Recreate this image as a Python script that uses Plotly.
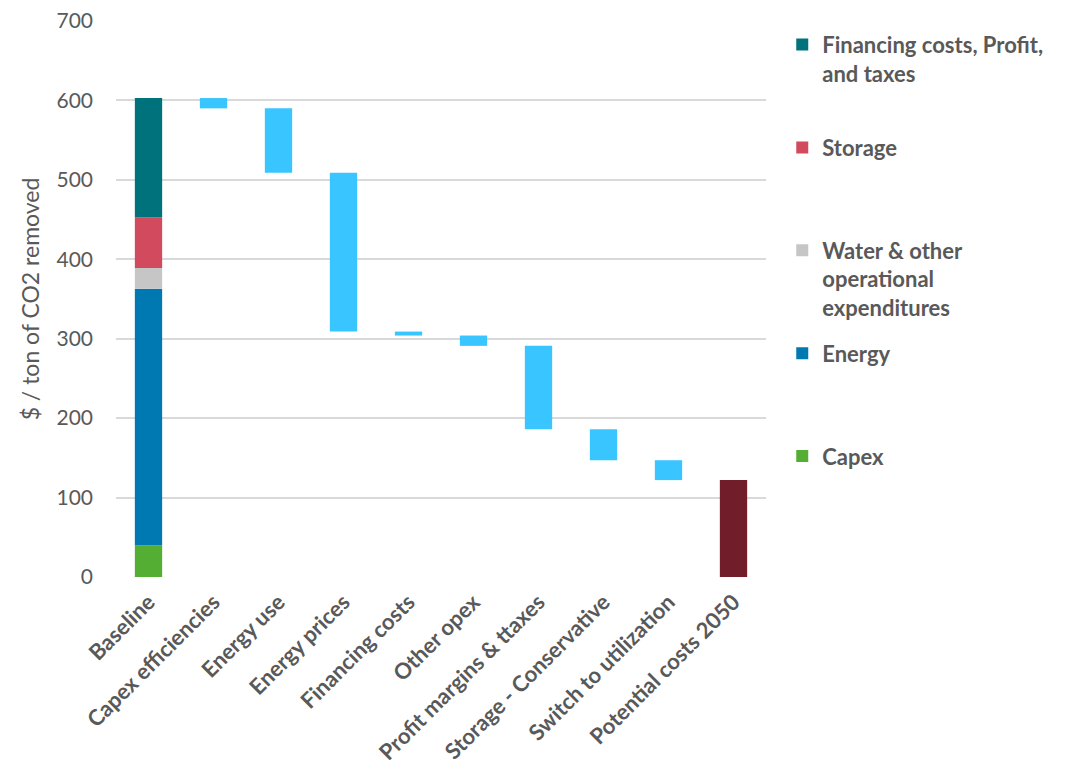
import numpy as np
import plotly.graph_objects as go

# Baseline cost breakdown ($ / ton of CO2 removed), bottom to top
baseline_parts = ["Capex", "Energy", "Water & other<br>operational<br>expenditures",
                  "Storage", "Financing costs, Profit,<br>and taxes"]
baseline_values = [40, 323, 26, 64, 150]
baseline_colors = ["#53AE33", "#0079B2", "#C6C6C6", "#D14A5E", "#00727C"]

# Cost reduction steps between the baseline and 2050
step_labels = ["Capex efficiencies", "Energy use", "Energy prices", "Financing costs",
               "Other opex", "Profit margins & ttaxes", "Storage - Conservative",
               "Switch to utilization"]
step_reductions = [13, 81, 200, 5, 13, 105, 39, 25]

final_label = "Potential costs 2050"
categories = ["Baseline"] + step_labels + [final_label]
y_ticks = [0, 100, 200, 300, 400, 500, 600, 700]

STEP_COLOR = "#39C5FF"
FINAL_COLOR = "#721D2A"
TEXT = "#595959"
FONT = "Lato"

fig = go.Figure()

# Stacked baseline bar
part_bases = np.concatenate([[0], np.cumsum(baseline_values)[:-1]])
legend_ids = ["legend5", "legend4", "legend3", "legend2", "legend"]
for name, val, base, color, lg in zip(baseline_parts, baseline_values, part_bases,
                                      baseline_colors, legend_ids):
    fig.add_trace(go.Bar(
        x=["Baseline"], y=[val], base=[base], name=f"<b>{name}</b>",
        marker=dict(color=color, line=dict(width=0)), legend=lg,
    ))

# Floating reduction bars
baseline_total = float(np.sum(baseline_values))
levels_after = baseline_total - np.cumsum(step_reductions)
fig.add_trace(go.Bar(
    x=step_labels, y=step_reductions, base=levels_after,
    marker=dict(color=STEP_COLOR, line=dict(width=0)), showlegend=False,
))

# Resulting 2050 cost
final_value = float(levels_after[-1])
fig.add_trace(go.Bar(
    x=[final_label], y=[final_value], base=[0],
    marker=dict(color=FINAL_COLOR, line=dict(width=0)), showlegend=False,
))

legend_common = dict(
    x=1.025, xanchor="left", yanchor="top", valign="top",
    font=dict(family=FONT, size=22, color=TEXT),
    bgcolor="rgba(0,0,0,0)", borderwidth=0, itemwidth=30,
)
legend_tops = {"legend": 0.995, "legend2": 0.81, "legend3": 0.625,
               "legend4": 0.44, "legend5": 0.255}
layout_legends = {k: dict(legend_common, y=v) for k, v in legend_tops.items()}

fig.update_layout(
    width=1068, height=770,
    margin=dict(l=116, r=302, t=21, b=193, autoexpand=False),
    paper_bgcolor="white", plot_bgcolor="white",
    barmode="overlay", bargap=0.58,
    font=dict(family=FONT, color=TEXT),
    **layout_legends,
    xaxis=dict(
        categoryorder="array", categoryarray=categories,
        tickangle=-45, showgrid=False, showline=False, zeroline=False,
        tickfont=dict(family=FONT, size=22, color=TEXT, weight="bold"),
        ticks="", ticklabelstandoff=7, automargin=False,
    ),
    yaxis=dict(
        range=[0, 700], tickvals=y_ticks, showgrid=True,
        gridcolor="#D9D9D9", gridwidth=1.5, zeroline=False, showline=False,
        tickfont=dict(family=FONT, size=21, color=TEXT), ticks="",
        ticklabelstandoff=22, automargin=False,
        title=dict(text="$ / ton of CO2 removed", standoff=10,
                   font=dict(family=FONT, size=23, color=TEXT)),
    ),
)

fig.write_html("out.html")
